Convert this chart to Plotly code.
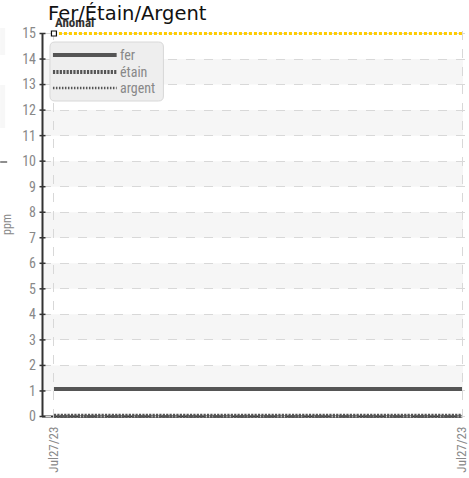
import plotly.graph_objects as go

# ---- data ----
x_idx = [0, 1]
x_labels = ["Jul27/23", "Jul27/23"]
series_names = ["fer", "étain", "argent"]
fer = [1.08, 1.08]
etain = [0, 0]
argent = [0, 0]
anomal_level = 15
anomal_label = "Anomal"
y_ticks = list(range(0, 16))
title_text = "Fer/Étain/Argent"
y_title = "ppm"

W, H = 469, 478
ML, MR, MT, MB = 42, 0, 31, 60
PW = W - ML - MR
PH = H - MT - MB

x_lo = -12 / 410
x_hi_axis = 1 + 1 / 410
x_range = [x_lo, 1 + 5 / 410]
y_scale = 383 / 15
y_range = [-1.5 / y_scale, 15 + 2.5 / y_scale]

COND = "Roboto Condensed, DejaVu Sans Condensed, Liberation Sans Narrow, Roboto, sans-serif"
DARK = "#555555"

def px(x):
    return (x - ML) / PW

def py(y):
    return (H - MB - y) / PH

def yv(v):
    # data value -> paper fraction on the y axis
    return (v - y_range[0]) / (y_range[1] - y_range[0])

fig = go.Figure()

line_styles = {
    "fer": dict(color=DARK, width=4),
    "étain": dict(color=DARK, width=5.5, dash="2.2px,1.2px"),
    "argent": dict(color=DARK, width=2.5, dash="1.5px,1.5px"),
}
for name, vals in zip(series_names, [fer, etain, argent]):
    fig.add_trace(go.Scatter(x=x_idx, y=vals, mode="lines", name=name,
                             line=line_styles[name], showlegend=False,
                             hoverinfo="skip"))

# anomal threshold
fig.add_trace(go.Scatter(x=[x_idx[0], x_idx[-1]], y=[anomal_level, anomal_level],
                         mode="lines", line=dict(color="#FFCC00", width=3, dash="3px,2px"),
                         showlegend=False, hoverinfo="skip", cliponaxis=False))
fig.add_trace(go.Scatter(x=[x_idx[0]], y=[anomal_level], mode="markers",
                         marker=dict(symbol="square", size=5, color="white",
                                     line=dict(color="#111111", width=1.2)),
                         showlegend=False, hoverinfo="skip", cliponaxis=False))

shapes = []
# alternating bands
for k in range(1, 15, 2):
    shapes.append(dict(type="rect", xref="x", yref="y", x0=x_lo, x1=x_hi_axis, y0=k, y1=k + 1,
                       fillcolor="#f6f6f6", line=dict(width=0), layer="below"))

# x axis line
shapes.append(dict(type="line", xref="paper", yref="paper", x0=0, x1=px(465),
                   y0=yv(0), y1=yv(0), line=dict(color="#333333", width=2), layer="below"))
# y axis line
shapes.append(dict(type="line", xref="paper", yref="paper", x0=px(42.5), x1=px(42.5),
                   y0=yv(0), y1=yv(15), line=dict(color="#333333", width=2), layer="above"))
# crossing tick marks on y axis
for t in y_ticks:
    shapes.append(dict(type="line", xref="paper", yref="paper", x0=px(39.5), x1=px(45.5),
                       y0=yv(t), y1=yv(t), line=dict(color="#333333", width=1.5), layer="above"))

# legend box (rounded)
bx0, bx1, by0, by1, r = 50, 164, 42, 101, 5
path = (f"M {px(bx0 + r)},{py(by0)} L {px(bx1 - r)},{py(by0)} "
        f"Q {px(bx1)},{py(by0)} {px(bx1)},{py(by0 + r)} L {px(bx1)},{py(by1 - r)} "
        f"Q {px(bx1)},{py(by1)} {px(bx1 - r)},{py(by1)} L {px(bx0 + r)},{py(by1)} "
        f"Q {px(bx0)},{py(by1)} {px(bx0)},{py(by1 - r)} L {px(bx0)},{py(by0 + r)} "
        f"Q {px(bx0)},{py(by0)} {px(bx0 + r)},{py(by0)} Z")
shapes.append(dict(type="path", xref="paper", yref="paper", path=path,
                   fillcolor="#eeeeee", line=dict(color="#d8d8d8", width=1), layer="above"))

legend_y = [55, 72, 88]
annotations = []
for name, ly in zip(series_names, legend_y):
    st = line_styles[name]
    shapes.append(dict(type="line", xref="paper", yref="paper",
                       x0=px(53), x1=px(117), y0=py(ly), y1=py(ly),
                       line=dict(color=st["color"], width=st["width"] if name != "étain" else 4,
                                 dash=st.get("dash", "solid")), layer="above"))
    annotations.append(dict(text=name, xref="paper", yref="paper", x=px(118), y=py(ly),
                            xanchor="left", yanchor="middle", showarrow=False,
                            font=dict(family=COND, size=14, color="#888888")))

# stray marks at left edge
shapes.append(dict(type="line", xref="paper", yref="paper", x0=px(0), x1=px(7),
                   y0=py(162), y1=py(162), line=dict(color="#444444", width=1.2)))
shapes.append(dict(type="rect", xref="paper", yref="paper", x0=px(0), x1=px(5),
                   y0=py(55), y1=py(28), fillcolor="#f7f7f7", line=dict(width=0)))
shapes.append(dict(type="rect", xref="paper", yref="paper", x0=px(0), x1=px(5),
                   y0=py(128), y1=py(85), fillcolor="#f7f7f7", line=dict(width=0)))

annotations.append(dict(text="<b>" + anomal_label + "</b>", xref="paper", yref="paper",
                        x=px(53), y=py(32), xanchor="left", yanchor="bottom", showarrow=False,
                        font=dict(family=COND, size=13, color="#333333")))
annotations.append(dict(text=title_text, xref="paper", yref="paper", x=px(46), y=py(27),
                        xanchor="left", yanchor="bottom", showarrow=False,
                        font=dict(family="DejaVu Sans", size=19.5, color="#111111")))

fig.update_layout(
    width=W, height=H,
    margin=dict(l=ML, r=MR, t=MT, b=MB, pad=0),
    paper_bgcolor="white", plot_bgcolor="white",
    showlegend=False,
    shapes=shapes, annotations=annotations,
    xaxis=dict(range=x_range, tickmode="array", tickvals=x_idx, ticktext=x_labels,
               tickangle=-90, tickfont=dict(family=COND, size=13, color="#888888"),
               ticklabelstandoff=5, ticklabeloverflow="allow",
               showgrid=True, gridcolor="#d8d8d8", griddash="dash", gridwidth=1,
               zeroline=False, showline=False, ticks="", fixedrange=True),
    yaxis=dict(range=y_range, tickmode="array", tickvals=y_ticks,
               tickfont=dict(family=COND, size=14, color="#888888"),
               showgrid=True, gridcolor="#d8d8d8", griddash="dash", gridwidth=1,
               zeroline=False, showline=False, ticks="", ticklabelstandoff=5,
               title=dict(text=y_title, font=dict(family=COND, size=12, color="#888888"),
                          standoff=10),
               fixedrange=True),
)

fig.write_html("out.html", config={"displayModeBar": False},
               post_script="document.body.style.margin='0';document.body.style.overflow='hidden';")
